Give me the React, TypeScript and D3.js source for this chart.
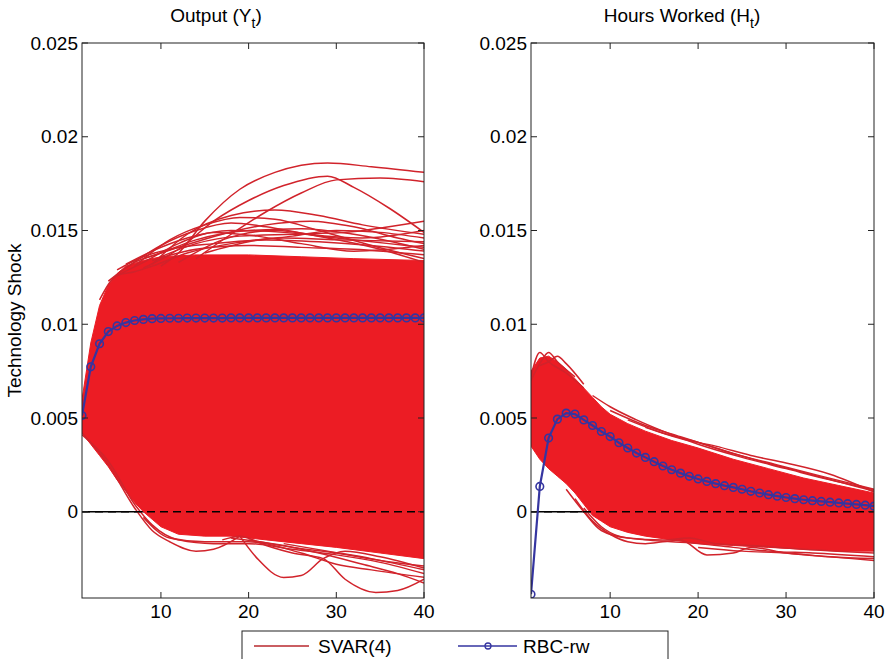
import * as d3 from "d3";

const W = 885;
const H = 659;
const FONT = "'Liberation Sans', Arial, Helvetica, sans-serif";
const RED_FILL = "#ec1c24";
const RED_LINE = "#d1232b";
const BLUE = "#3535a0";

// horizon, tick values
const periods = d3.range(1, 41);
const xTicks = [10, 20, 30, 40];
const yTicks = [0, 0.005, 0.01, 0.015, 0.02, 0.025];
const yTickLabels = ["0", "0.005", "0.01", "0.015", "0.02", "0.025"];
const yDomain: [number, number] = [-0.0046, 0.025];

// RBC-rw impulse responses
const rbcOutput = [
  0.00513, 0.00773, 0.00896, 0.00961, 0.00991, 0.01009, 0.0102, 0.01026, 0.0103, 0.01031,
  0.01032, 0.01032, 0.01033, 0.01033, 0.01033, 0.01033, 0.01033, 0.01034, 0.01034, 0.01034,
  0.01034, 0.01034, 0.01034, 0.01034, 0.01034, 0.01034, 0.01034, 0.01034, 0.01034, 0.01034,
  0.01034, 0.01034, 0.01034, 0.01034, 0.01034, 0.01034, 0.01034, 0.01034, 0.01034, 0.01034,
];
const rbcHours = [
  -0.0044, 0.00135, 0.00393, 0.00494, 0.00526, 0.00521, 0.0049, 0.0046, 0.00428, 0.00401,
  0.00368, 0.0034, 0.00313, 0.0029, 0.00267, 0.00244, 0.00224, 0.00206, 0.00189, 0.00175,
  0.00162, 0.0015, 0.00139, 0.0013, 0.0012, 0.00109, 0.001, 0.00091, 0.00083, 0.00076,
  0.0007, 0.00064, 0.00059, 0.00055, 0.00051, 0.00047, 0.00043, 0.00039, 0.00035, 0.0003,
];

// SVAR(4) bootstrap responses: dense band edges [t, value]
const outputBandUpper: [number, number][] = [
  [1, 0.006], [2, 0.009], [3, 0.011], [4, 0.0121], [5, 0.0127], [6, 0.0131], [8, 0.0134],
  [10, 0.0136], [14, 0.0137], [20, 0.0137], [26, 0.0136], [32, 0.0135], [40, 0.0134],
];
const outputBandLower: [number, number][] = [
  [1, 0.0042], [2, 0.0036], [3, 0.003], [4, 0.0024], [5, 0.0017], [6, 0.0011], [7, 0.0005],
  [8, 0.0], [9, -0.0004], [10, -0.0008], [12, -0.0012], [15, -0.0013], [18, -0.0013],
  [22, -0.0015], [26, -0.0017], [30, -0.0019], [35, -0.0022], [40, -0.0025],
];
const hoursBandUpper: [number, number][] = [
  [1, 0.0075], [2, 0.0082], [3, 0.0083], [4, 0.008], [5, 0.0076], [6, 0.0071], [7, 0.0066],
  [8, 0.0061], [9, 0.0056], [10, 0.0052], [12, 0.0047], [14, 0.0043], [17, 0.0038],
  [20, 0.0034], [24, 0.0028], [28, 0.0023], [32, 0.0018], [36, 0.0014], [40, 0.001],
];
const hoursBandLower: [number, number][] = [
  [1, 0.0035], [2, 0.0028], [3, 0.0023], [4, 0.0019], [5, 0.0015], [6, 0.001], [7, 0.0004],
  [8, -0.0002], [9, -0.0005], [10, -0.0008], [12, -0.0011], [14, -0.0013], [17, -0.0015],
  [20, -0.0017], [24, -0.0018], [28, -0.0019], [32, -0.0020], [36, -0.0021], [40, -0.0021],
];

// SVAR(4) single draws visible outside the dense band
const outputDraws: [number, number][][] = [
  [[10, 0.0131], [12, 0.0138], [15, 0.0155], [19, 0.0172], [23, 0.0181], [29, 0.0186], [34, 0.0184], [40, 0.0181]],
  [[8, 0.013], [12, 0.014], [16, 0.0155], [20, 0.0166], [24, 0.0174], [29, 0.0179], [32, 0.0173], [36, 0.0162], [40, 0.0149]],
  [[14, 0.0135], [18, 0.0148], [22, 0.016], [26, 0.017], [30, 0.0177], [35, 0.0178], [40, 0.0176]],
  [[9, 0.0132], [13, 0.0148], [18, 0.0158], [23, 0.0161], [28, 0.0158], [33, 0.0153], [40, 0.0148]],
  [[7, 0.0131], [11, 0.0145], [15, 0.0153], [19, 0.0157], [23, 0.0156], [28, 0.015], [34, 0.0142], [40, 0.0135]],
  [[6, 0.013], [10, 0.0142], [14, 0.015], [18, 0.0154], [22, 0.0152], [27, 0.0148], [33, 0.0146], [40, 0.015]],
  [[5, 0.0126], [8, 0.0133], [12, 0.0143], [16, 0.0149], [21, 0.0147], [26, 0.0143], [32, 0.0139], [40, 0.0142]],
  [[4, 0.0123], [7, 0.0133], [10, 0.0138], [14, 0.0145], [20, 0.015], [26, 0.0151], [32, 0.0148], [40, 0.014]],
  [[12, 0.0133], [17, 0.0145], [23, 0.015], [29, 0.0146], [35, 0.014], [40, 0.0133]],
  [[3, 0.0113], [5, 0.0126], [7, 0.0128], [9, 0.0131], [13, 0.0138], [18, 0.0143], [24, 0.0146], [30, 0.0145], [40, 0.0144]],
  [[6, 0.0132], [9, 0.0139], [13, 0.0146], [18, 0.015], [24, 0.0149], [30, 0.0146], [36, 0.0143], [40, 0.0141]],
  [[10, 0.0136], [14, 0.0143], [19, 0.0147], [25, 0.0148], [31, 0.0149], [36, 0.0152], [40, 0.0155]],
  [[8, 0.0135], [12, 0.0141], [17, 0.0148], [22, 0.0153], [27, 0.0155], [32, 0.0152], [37, 0.0146], [40, 0.0143]],
  [[15, 0.0138], [20, 0.0144], [25, 0.0147], [30, 0.015], [35, 0.0149], [40, 0.0146]],
  [[5, 0.0129], [8, 0.0136], [11, 0.014], [16, 0.0143], [22, 0.0145], [28, 0.0144], [34, 0.0142], [40, 0.0139]],
  [[9, 0.0134], [14, 0.014], [20, 0.0142], [26, 0.0141], [32, 0.014], [40, 0.0137]],
  [[1, 0.0042], [4, 0.0025], [7, 0.0002], [9, -0.001], [11, -0.0016], [14, -0.0021], [16, -0.002], [19, -0.0013]],
  [[19, -0.0013], [21, -0.0025], [24, -0.0035], [26, -0.0034], [28.5, -0.0025], [31, -0.0021], [35, -0.0024], [40, -0.003]],
  [[17, -0.0015], [19, -0.0013], [22, -0.0018], [25, -0.0022], [28.5, -0.0025], [31, -0.0036], [34.5, -0.0043], [37, -0.0042], [40, -0.0036]],
  [[1, 0.0041], [4, 0.0027], [7, 0.0004], [9, -0.0007], [12, -0.0015], [16, -0.0017], [20, -0.0017], [25, -0.002], [30, -0.0023], [35, -0.0027], [40, -0.0033]],
  [[8, -0.0003], [11, -0.0014], [15, -0.0016], [20, -0.0016], [26, -0.0022], [30, -0.0028], [34, -0.0031], [40, -0.0035]],
  [[18, -0.0014], [24, -0.0018], [28, -0.0022], [33, -0.0028], [37, -0.0033], [40, -0.0038]],
  [[20, -0.0015], [25, -0.0019], [30, -0.0022], [35, -0.0026], [40, -0.0029]],
  [[24, -0.0017], [29, -0.0021], [34, -0.0025], [40, -0.0031]],
];
const hoursDraws: [number, number][][] = [
  [[1, 0.0072], [2, 0.0085], [3, 0.008], [5, 0.0074], [7, 0.0066]],
  [[1, 0.007], [2, 0.0079], [3, 0.0085], [4, 0.008], [6, 0.0072]],
  [[2, 0.0078], [3, 0.008], [4, 0.0083], [5, 0.0079], [7, 0.0068]],
  [[8, 0.0062], [10, 0.0056], [13, 0.0049], [16, 0.0043], [20, 0.0036], [25, 0.0029], [30, 0.0023], [35, 0.0017], [40, 0.00117]],
  [[10, 0.0054], [14, 0.0046], [18, 0.004], [22, 0.0034], [27, 0.0027], [32, 0.0021], [36, 0.0016], [40, 0.0011]],
  [[12, 0.0049], [16, 0.0042], [20, 0.0037], [24, 0.0031], [29, 0.0025], [34, 0.0019], [40, 0.0012]],
  [[14, 0.0045], [18, 0.0039], [22, 0.0035], [26, 0.003], [30, 0.0026], [35, 0.002], [40, 0.00105]],
  [[6, 0.0007], [8, -0.0005], [10, -0.0012], [12, -0.0016], [14, -0.0017], [16, -0.0016], [18, -0.0015], [21, -0.0023], [24, -0.0022], [26, -0.0019], [30, -0.0022], [35, -0.0024], [40, -0.0026]],
  [[7, 0.0002], [9, -0.0008], [11, -0.0013], [14, -0.0015], [17, -0.0016], [20, -0.0017], [24, -0.0019], [28, -0.0021], [33, -0.0022], [40, -0.0024]],
  [[5, 0.0012], [7, 0.0], [9, -0.001], [12, -0.0014], [16, -0.0015], [19, -0.0014], [22, -0.0017], [26, -0.0018], [32, -0.002], [40, -0.0022]],
  [[20, -0.0019], [25, -0.0021], [30, -0.0022], [35, -0.0024], [40, -0.0025]],
];

const TOP = 43;
const BOTTOM = 598;

type PanelProps = {
  id: string;
  left: number;
  right: number;
  title: string;
  sub: string;
  titleX: number;
  upper: [number, number][];
  lower: [number, number][];
  draws: [number, number][][];
  rbc: number[];
};

function Panel({ id, left, right, title, sub, titleX, upper, lower, draws, rbc }: PanelProps) {
  const x = d3.scaleLinear().domain([1, 40]).range([left, right]);
  const y = d3.scaleLinear().domain(yDomain).range([BOTTOM, TOP]);

  const band = d3
    .line<[number, number]>()
    .x((d) => x(d[0]))
    .y((d) => y(d[1]))
    .curve(d3.curveLinearClosed)(upper.concat(lower.slice().reverse()));

  const drawLine = d3
    .line<[number, number]>()
    .x((d) => x(d[0]))
    .y((d) => y(d[1]))
    .curve(d3.curveMonotoneX);

  const rbcLine = d3
    .line<number>()
    .x((_, i) => x(periods[i]))
    .y((d) => y(d));

  return (
    <g>
      <defs>
        <clipPath id={id}>
          <rect x={left} y={TOP} width={right - left} height={BOTTOM - TOP} />
        </clipPath>
      </defs>
      <text x={titleX} y={22} textAnchor="middle" fontSize={19} fontFamily={FONT} fill="#000">
        {title}
        <tspan fontSize={14} dy={6}>{sub}</tspan>
        <tspan dy={-6}>)</tspan>
      </text>
      <g clipPath={`url(#${id})`}>
        <line x1={x(1)} x2={x(40)} y1={y(0)} y2={y(0)} stroke="#000" strokeWidth={1.5} />
        <path d={band ?? ""} fill={RED_FILL} stroke={RED_FILL} strokeWidth={1} />
        {draws.map((d, i) => (
          <path key={i} d={drawLine(d) ?? ""} fill="none" stroke={RED_LINE} strokeWidth={1.5} />
        ))}
        <line
          x1={x(1)}
          x2={x(40)}
          y1={y(0)}
          y2={y(0)}
          stroke="#000"
          strokeWidth={1.5}
          strokeDasharray="8,5"
        />
        <path d={rbcLine(rbc) ?? ""} fill="none" stroke={BLUE} strokeWidth={2.2} />
        {rbc.map((v, i) => (
          <circle key={i} cx={x(periods[i])} cy={y(v)} r={3.8} fill="none" stroke={BLUE} strokeWidth={1.6} />
        ))}
      </g>
      <rect x={left} y={TOP} width={right - left} height={BOTTOM - TOP} fill="none" stroke="#222" strokeWidth={1} />
      {xTicks.map((t) => (
        <g key={t}>
          <line x1={x(t)} x2={x(t)} y1={BOTTOM} y2={BOTTOM - 6} stroke="#222" />
          <line x1={x(t)} x2={x(t)} y1={TOP} y2={TOP + 6} stroke="#222" />
          <text x={x(t)} y={618} textAnchor="middle" fontSize={19} fontFamily={FONT}>
            {t}
          </text>
        </g>
      ))}
      {yTicks.map((v, i) => (
        <g key={v}>
          <line x1={left} x2={left + 6} y1={y(v)} y2={y(v)} stroke="#222" />
          <line x1={right} x2={right - 6} y1={y(v)} y2={y(v)} stroke="#222" />
          <text
            x={left - 4}
            y={y(v)}
            dy="0.35em"
            textAnchor="end"
            fontSize={19}
            fontFamily={FONT}
          >
            {yTickLabels[i]}
          </text>
        </g>
      ))}
    </g>
  );
}

export default function App() {
  return (
    <div style={{ position: "absolute", left: 0, top: 0, width: W, height: H, background: "#fff" }}>
      <svg width={W} height={H} viewBox={`0 0 ${W} ${H}`} style={{ display: "block" }}>
        <rect width={W} height={H} fill="#fff" />
        <Panel
          id="clip-output"
          left={82}
          right={424}
          title="Output (Y"
          sub="t"
          titleX={216}
          upper={outputBandUpper}
          lower={outputBandLower}
          draws={outputDraws}
          rbc={rbcOutput}
        />
        <Panel
          id="clip-hours"
          left={531}
          right={874}
          title="Hours Worked (H"
          sub="t"
          titleX={682}
          upper={hoursBandUpper}
          lower={hoursBandLower}
          draws={hoursDraws}
          rbc={rbcHours}
        />
        <text
          transform={`translate(21,${(TOP + BOTTOM) / 2}) rotate(-90)`}
          textAnchor="middle"
          fontSize={19}
          fontFamily={FONT}
        >
          Technology Shock
        </text>
        <g>
          <rect x={242} y={631} width={426} height={40} fill="#fff" stroke="#222" strokeWidth={1} />
          <line x1={254} x2={309} y1={646} y2={646} stroke="#b8282e" strokeWidth={1.5} />
          <text x={318} y={653} fontSize={19} fontFamily={FONT}>
            SVAR(4)
          </text>
          <line x1={458} x2={517} y1={646} y2={646} stroke={BLUE} strokeWidth={1.5} />
          <circle cx={488} cy={646} r={3} fill="none" stroke={BLUE} strokeWidth={1.3} />
          <text x={523} y={653} fontSize={19} fontFamily={FONT}>
            RBC-rw
          </text>
        </g>
      </svg>
    </div>
  );
}
